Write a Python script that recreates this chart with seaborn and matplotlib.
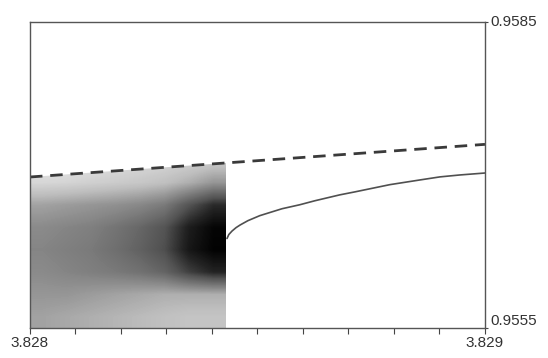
import numpy as np
import pandas as pd
import matplotlib
matplotlib.use("Agg")
import matplotlib.pyplot as plt
import seaborn as sns
from matplotlib.patches import Polygon

# axis range
r_min, r_max = 3.828, 3.829
x_min, x_max = 0.9555, 0.9585

# upper edge of the attractor (dashed), read at both ends
r_dash = [3.828, 3.829]
x_dash = [0.95698, 0.95730]

# stable period-3 branch after the tangent bifurcation (solid)
r_stable = [3.828433, 3.828437, 3.828444, 3.828453, 3.828462, 3.828479,
            3.828505, 3.828554, 3.828593, 3.828626, 3.828681, 3.828714,
            3.828791, 3.828857, 3.828901, 3.828945, 3.829000]
x_stable = [0.956377, 0.956416, 0.956450, 0.956484, 0.956510, 0.956552,
            0.956601, 0.956669, 0.956708, 0.956747, 0.956805, 0.956834,
            0.956905, 0.956951, 0.956981, 0.957000, 0.957019]

# chaotic band before the window: grey level
# columns run left -> right in r, rows run top -> bottom in x
r_cloud_end = 3.82843
x_cloud_top = 0.95725
cloud_tone = [
    [0.16, 0.18, 0.20, 0.22, 0.24, 0.26, 0.28, 0.30],
    [0.26, 0.27, 0.29, 0.31, 0.33, 0.36, 0.42, 0.50],
    [0.46, 0.48, 0.50, 0.52, 0.55, 0.60, 0.74, 0.86],
    [0.54, 0.56, 0.58, 0.62, 0.67, 0.74, 0.90, 0.98],
    [0.56, 0.58, 0.60, 0.64, 0.69, 0.76, 0.92, 0.99],
    [0.54, 0.56, 0.58, 0.60, 0.63, 0.68, 0.80, 0.88],
    [0.50, 0.50, 0.48, 0.46, 0.44, 0.42, 0.42, 0.42],
    [0.46, 0.44, 0.42, 0.40, 0.38, 0.36, 0.34, 0.34],
]

sns.set_style("white")
plt.rcParams["font.family"] = ["Liberation Sans", "DejaVu Sans"]

fig = plt.figure(figsize=(5.48, 3.58), dpi=100)
ax = fig.add_axes([0.0547, 0.0838, 0.8303, 0.855])

# chaotic cloud, clipped under the dashed edge
img = ax.imshow(np.array(cloud_tone), cmap="Greys", vmin=0, vmax=1,
                extent=[r_min, r_cloud_end, x_min, x_cloud_top],
                aspect="auto", interpolation="bilinear", origin="upper")
clip = Polygon([(r_dash[0], x_dash[0]), (r_dash[1], x_dash[1]),
                (r_dash[1], x_min), (r_dash[0], x_min)],
               closed=True, transform=ax.transData, facecolor="none", edgecolor="none")
ax.add_patch(clip)
img.set_clip_path(clip)

dash_df = pd.DataFrame({"r": r_dash, "x": x_dash})
stable_df = pd.DataFrame({"r": r_stable, "x": x_stable})
sns.lineplot(data=dash_df, x="r", y="x", ax=ax, color="#3a3a3a", lw=2.0,
             linestyle=(0, (4.5, 2.8)))
sns.lineplot(data=stable_df, x="r", y="x", ax=ax, color="#505050", lw=1.2,
             solid_joinstyle="round")

ax.set_xlim(r_min, r_max)
ax.set_ylim(x_min, x_max)
ax.set_xlabel("")
ax.set_ylabel("")

ax.set_xticks(np.arange(11) * 0.0001 + r_min)
ax.set_xticklabels(["3.828"] + [""] * 9 + ["3.829"])
ax.tick_params(axis="x", direction="out", length=4, width=0.8, colors="#444444",
               labelsize=11, pad=2, bottom=True)
ax.yaxis.tick_right()
ax.set_yticks([x_min, x_max])
ax.set_yticklabels(["0.9555", "0.9585"])
ax.tick_params(axis="y", length=2, width=0.8, colors="#444444", labelsize=11, pad=2, right=True)
ylabels = ax.get_yticklabels()
ylabels[0].set_va("bottom")
ylabels[1].set_va("center")
for lab in ax.get_xticklabels() + ax.get_yticklabels():
    lab.set_color("#333333")

for s in ax.spines.values():
    s.set_color("#555555")
    s.set_linewidth(1.0)

fig.savefig("out.png", dpi=100, facecolor="white")
